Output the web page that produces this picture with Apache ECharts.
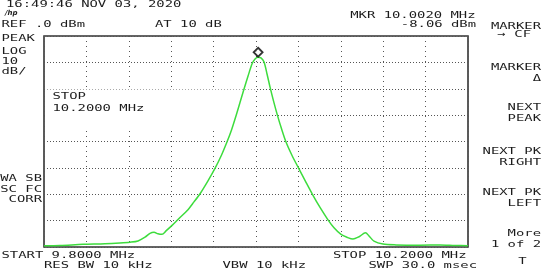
<!DOCTYPE html>
<html>
<head>
<meta charset="utf-8">
<script src="https://cdn.jsdelivr.net/npm/echarts@6/dist/echarts.min.js"></script>
<style>html,body{margin:0;padding:0;background:#fff;}#c{width:544px;height:277px;}</style>
</head>
<body>
<div id="c"></div>
<script>
// Trace: frequency (kHz) and level (dBm)
const freqKHz = [9800.0, 9815.1, 9836.8, 9857.5, 9871.7, 9881.1, 9888.7, 9895.3, 9900.0, 9903.8,
  9907.5, 9911.3, 9915.1, 9920.8, 9928.3, 9934.9, 9941.5, 9947.2, 9954.7, 9961.3,
  9967.5, 9972.6, 9976.9, 9981.1, 9984.9, 9988.7, 9992.5, 9996.2, 9999.1, 10002.0,
  10004.7, 10007.5, 10010.4, 10013.2, 10016.5, 10020.1, 10024.1, 10028.3, 10034.0, 10040.3,
  10046.7, 10053.5, 10060.4, 10067.6, 10073.6, 10080.2, 10085.8, 10091.5, 10097.2, 10103.3,
  10106.6, 10111.3, 10119.8, 10132.1, 10154.7, 10173.6, 10187.7, 10200.0];
const levelDbm = [-79.5, -79.4, -79.0, -78.8, -78.5, -78.2, -77.7, -76.3, -74.8, -74.4,
  -75.0, -75.2, -73.9, -71.8, -68.8, -66.3, -62.9, -59.8, -54.9, -50.2,
  -45.1, -40.2, -35.6, -30.3, -25.2, -20.1, -15.2, -10.6, -8.7, -8.06,
  -8.3, -9.8, -14.4, -19.3, -24.6, -29.9, -35.2, -40.2, -45.3, -50.2,
  -55.1, -60.2, -65.0, -69.5, -72.7, -75.2, -76.3, -77.0, -76.1, -74.6,
  -75.8, -77.8, -78.9, -79.2, -79.3, -79.2, -79.4, -79.5];
const markerFreqKHz = [10002.0];
const markerLevelDbm = [-8.06];
const xRange = [9800, 10200, 40];
const yRange = [-80, 0, 10];

// Screen annotations
const texts = [
  ["16:49:46 NOV 03, 2020", 6, 4.5, 'left'],
  ["REF .0 dBm", 1.5, 25, 'left'],
  ["AT 10 dB", 155, 25, 'left'],
  ["MKR 10.0020 MHz", 475.5, 15.5, 'right'],
  ["-8.06 dBm", 476, 25, 'right'],
  ["PEAK", 1.5, 39, 'left'],
  ["LOG", 1.5, 51.5, 'left'],
  ["10", 1.5, 61.5, 'left'],
  ["dB/", 1.5, 71.7, 'left'],
  ["WA SB", 42, 178.3, 'right'],
  ["SC FC", 42, 189.3, 'right'],
  ["CORR", 42, 200, 'right'],
  ["START 9.8000 MHz", 1.5, 256, 'left'],
  ["RES BW 10 kHz", 44, 266, 'left'],
  ["VBW 10 kHz", 222.5, 266, 'left'],
  ["STOP 10.2000 MHz", 466.5, 256, 'right'],
  ["SWP 30.0 msec", 477, 266, 'right'],
  ["MARKER", 541, 26.3, 'right'],
  ["\u2192 CF", 531, 35, 'right'],
  ["MARKER", 541, 68, 'right'],
  ["\u0394", 541, 79, 'right'],
  ["NEXT", 541, 108, 'right'],
  ["PEAK", 541, 119, 'right'],
  ["NEXT PK", 541, 151.7, 'right'],
  ["RIGHT", 541, 162.7, 'right'],
  ["NEXT PK", 541, 192.7, 'right'],
  ["LEFT", 541, 203.3, 'right'],
  ["More", 541, 233.3, 'right'],
  ["1 of 2", 541, 245, 'right'],
  ["T", 522.5, 261.7, 'center'],
  ["STOP", 52.5, 96.5, 'left'],
  ["10.2000 MHz", 52.5, 108.5, 'left']
];

const FS = 9.5;
const PITCH = 8.35;
const SX = PITCH / (0.602 * FS);

const graphics = [
  { type: 'rect', z: 1, shape: { x: 45, y: 89.5, width: 210, height: 38.5 }, style: { fill: '#ffffff' } },
  { type: 'text', z: 3, x: 5, y: 13, style: { text: '/hp', font: 'italic bold 7px "DejaVu Sans"', fill: '#222',
      align: 'left', textAlign: 'left', verticalAlign: 'middle', textVerticalAlign: 'middle' } }
];
texts.forEach(t => {
  graphics.push({
    type: 'text', z: 3, x: t[1], y: t[2], scaleX: SX,
    style: { text: t[0], font: FS + 'px "DejaVu Sans Mono"', fill: '#1c1c1c',
      align: t[3], textAlign: t[3], verticalAlign: 'middle', textVerticalAlign: 'middle' }
  });
});

const chart = echarts.init(document.getElementById('c'), null, { renderer: 'canvas' });
chart.setOption({
  animation: false,
  backgroundColor: '#ffffff',
  grid: { left: 44, top: 36, width: 424, height: 211, show: true, borderColor: '#333', borderWidth: 1.6, backgroundColor: 'transparent' },
  xAxis: {
    type: 'value', min: xRange[0], max: xRange[1], interval: xRange[2],
    axisLine: { show: false }, axisTick: { show: false }, axisLabel: { show: false },
    splitLine: { show: true, lineStyle: { color: '#555', width: 1, type: [1, 4] } }
  },
  yAxis: {
    type: 'value', min: yRange[0], max: yRange[1], interval: yRange[2],
    axisLine: { show: false }, axisTick: { show: false }, axisLabel: { show: false },
    splitLine: { show: true, lineStyle: { color: '#555', width: 1, type: [1, 2] } }
  },
  series: [
    {
      type: 'line', z: 2,
      data: freqKHz.map((f, i) => [f, levelDbm[i]]),
      showSymbol: false, smooth: 0.3,
      lineStyle: { color: '#3ddc3d', width: 1.5 }
    },
    {
      type: 'scatter', z: 4,
      data: markerFreqKHz.map((f, i) => [f, markerLevelDbm[i]]),
      symbol: 'diamond', symbolSize: [9, 9], symbolOffset: [0, -5],
      itemStyle: { color: '#ffffff', borderColor: '#000', borderWidth: 1.8 }
    }
  ],
  graphic: graphics
});
</script>
</body>
</html>
